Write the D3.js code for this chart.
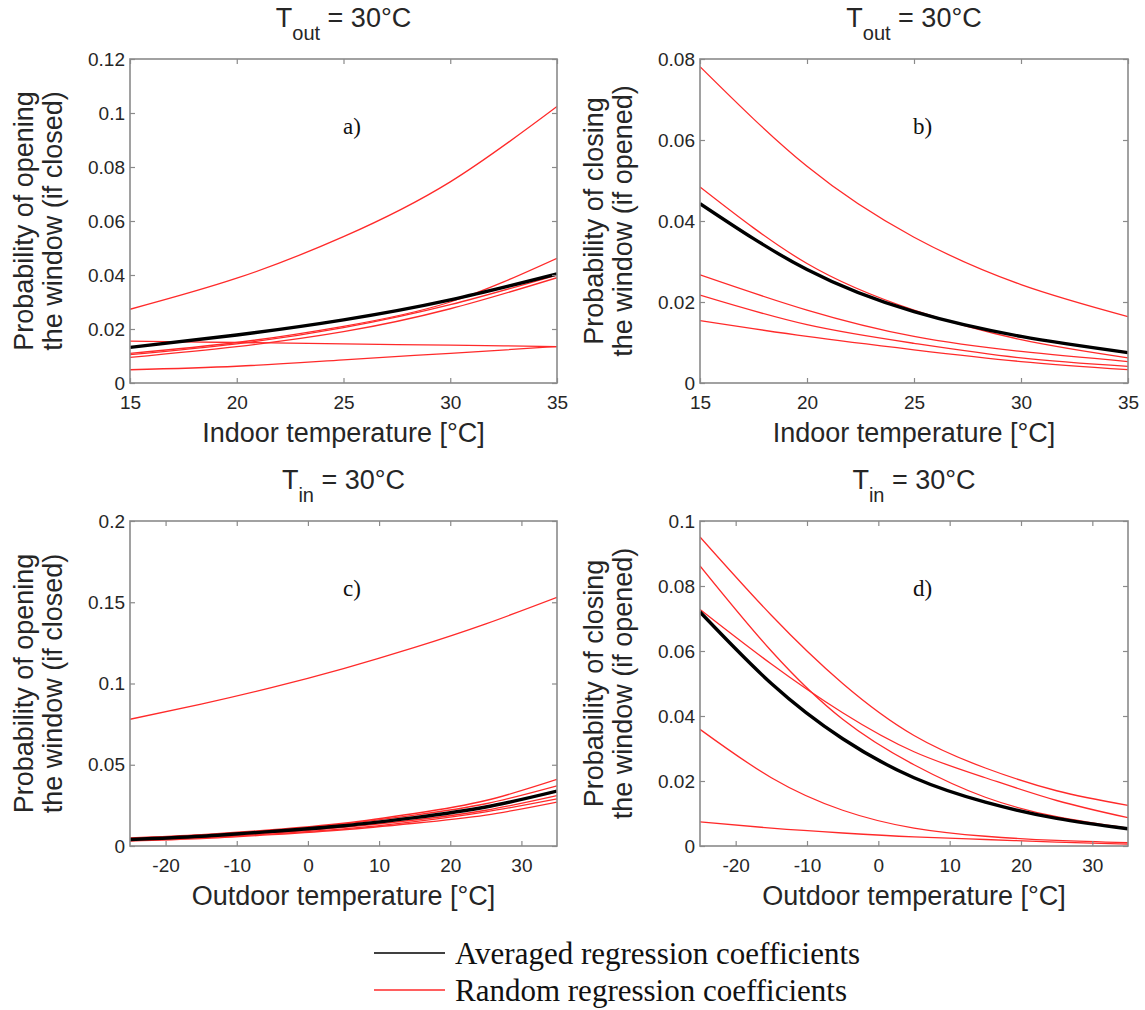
<!DOCTYPE html>
<html>
<head>
<meta charset="utf-8">
<script src="https://cdn.jsdelivr.net/npm/d3@7"></script>
<style>
  html, body { margin: 0; padding: 0; background: #fff; }
  svg { display: block; }
</style>
</head>
<body>
<svg id="chart" width="1145" height="1010"></svg>
<script>
// Sample temperatures at which each curve value was taken
const indoorTemps = [15, 20, 25, 30, 35];
const outdoorTemps = [-25, -15, -5, 5, 15, 25, 35];

// a) probability of opening vs indoor temperature (Tout = 30 °C)
const openIndoorAvg = [0.0132, 0.0178, 0.0234, 0.0308, 0.0404];
const openIndoorRandom = [
  [0.0273, 0.0388, 0.0542, 0.0745, 0.1024],
  [0.0110, 0.0150, 0.0210, 0.0300, 0.0462],
  [0.0105, 0.0145, 0.0205, 0.0290, 0.0400],
  [0.0095, 0.0135, 0.0190, 0.0275, 0.0390],
  [0.0155, 0.0150, 0.0145, 0.0140, 0.0135],
  [0.0049, 0.0062, 0.0086, 0.0110, 0.0135]
];

// b) probability of closing vs indoor temperature (Tout = 30 °C)
const closeIndoorAvg = [0.0443, 0.0280, 0.0176, 0.0115, 0.0075];
const closeIndoorRandom = [
  [0.0781, 0.0535, 0.0360, 0.0243, 0.0164],
  [0.0484, 0.0295, 0.0180, 0.0107, 0.0062],
  [0.0267, 0.0180, 0.0115, 0.0078, 0.0053],
  [0.0217, 0.0144, 0.0098, 0.0062, 0.0041],
  [0.0154, 0.0115, 0.0082, 0.0053, 0.0033]
];

// c) probability of opening vs outdoor temperature (Tin = 30 °C)
const openOutdoorAvg = [0.0040, 0.0060, 0.0090, 0.0125, 0.0175, 0.0240, 0.0338];
const openOutdoorRandom = [
  [0.0780, 0.0873, 0.0976, 0.1092, 0.1222, 0.1367, 0.1530],
  [0.0050, 0.0070, 0.0100, 0.0140, 0.0200, 0.0280, 0.0410],
  [0.0045, 0.0065, 0.0095, 0.0135, 0.0190, 0.0260, 0.0370],
  [0.0040, 0.0055, 0.0080, 0.0115, 0.0160, 0.0220, 0.0310],
  [0.0035, 0.0050, 0.0075, 0.0105, 0.0150, 0.0210, 0.0290],
  [0.0030, 0.0045, 0.0070, 0.0100, 0.0140, 0.0190, 0.0270]
];

// d) probability of closing vs outdoor temperature (Tin = 30 °C)
const closeOutdoorAvg = [0.0720, 0.0500, 0.0330, 0.0210, 0.0135, 0.0085, 0.0053];
const closeOutdoorRandom = [
  [0.0951, 0.0710, 0.0500, 0.0340, 0.0240, 0.0170, 0.0125],
  [0.0862, 0.0600, 0.0390, 0.0250, 0.0150, 0.0090, 0.0055],
  [0.0728, 0.0560, 0.0410, 0.0290, 0.0210, 0.0140, 0.0087],
  [0.0359, 0.0210, 0.0110, 0.0055, 0.0030, 0.0017, 0.0010],
  [0.0074, 0.0055, 0.0040, 0.0028, 0.0020, 0.0012, 0.0006]
];

// Axis ticks
const indoorTicks = [15, 20, 25, 30, 35];
const outdoorTicks = [-20, -10, 0, 10, 20, 30];
const yTicksA = [0, 0.02, 0.04, 0.06, 0.08, 0.1, 0.12];
const yTicksB = [0, 0.02, 0.04, 0.06, 0.08];
const yTicksC = [0, 0.05, 0.1, 0.15, 0.2];
const yTicksD = [0, 0.02, 0.04, 0.06, 0.08, 0.1];

// Text
const panelTags = ["a)", "b)", "c)", "d)"];
const yLabelsOpen = ["Probability of opening", "the window (if closed)"];
const yLabelsClose = ["Probability of closing", "the window (if opened)"];
const legendLabels = ["Averaged regression coefficients", "Random regression coefficients"];

// ---- drawing ----
const svg = d3.select("#chart");
const sans = "'Liberation Sans', Arial, Helvetica, sans-serif";
const serif = "'Liberation Serif', 'Times New Roman', serif";
const frameColor = "#8a8a8a";
const textColor = "#262626";
const redColor = "#ff2a2a";

const panels = [
  { tag: panelTags[0], left: 130, right: 557, top: 59, bottom: 383,
    xDomain: [15, 35], yDomain: [0, 0.12], xTicks: indoorTicks, yTicks: yTicksA,
    xs: indoorTemps, avg: openIndoorAvg, random: openIndoorRandom,
    title: ["T", "out", " = 30°C"], xLabel: "Indoor temperature [°C]", yLabel: yLabelsOpen },
  { tag: panelTags[1], left: 700, right: 1128, top: 59, bottom: 383,
    xDomain: [15, 35], yDomain: [0, 0.08], xTicks: indoorTicks, yTicks: yTicksB,
    xs: indoorTemps, avg: closeIndoorAvg, random: closeIndoorRandom,
    title: ["T", "out", " = 30°C"], xLabel: "Indoor temperature [°C]", yLabel: yLabelsClose },
  { tag: panelTags[2], left: 130, right: 557, top: 521, bottom: 846,
    xDomain: [-25, 35], yDomain: [0, 0.2], xTicks: outdoorTicks, yTicks: yTicksC,
    xs: outdoorTemps, avg: openOutdoorAvg, random: openOutdoorRandom,
    title: ["T", "in", " = 30°C"], xLabel: "Outdoor temperature [°C]", yLabel: yLabelsOpen },
  { tag: panelTags[3], left: 700, right: 1128, top: 521, bottom: 846,
    xDomain: [-25, 35], yDomain: [0, 0.1], xTicks: outdoorTicks, yTicks: yTicksD,
    xs: outdoorTemps, avg: closeOutdoorAvg, random: closeOutdoorRandom,
    title: ["T", "in", " = 30°C"], xLabel: "Outdoor temperature [°C]", yLabel: yLabelsClose }
];

const fmt = v => v === 0 ? "0" : String(+v.toFixed(3));

panels.forEach((p, i) => {
  const x = d3.scaleLinear().domain(p.xDomain).range([p.left, p.right]);
  const y = d3.scaleLinear().domain(p.yDomain).range([p.bottom, p.top]);
  const g = svg.append("g");
  const clipId = "clip" + i;

  svg.append("clipPath").attr("id", clipId)
    .append("rect")
    .attr("x", p.left).attr("y", p.top)
    .attr("width", p.right - p.left).attr("height", p.bottom - p.top);

  const line = d3.line()
    .x((d, k) => x(p.xs[k]))
    .y(d => y(d))
    .curve(d3.curveNatural);

  const curves = g.append("g").attr("clip-path", `url(#${clipId})`);
  curves.selectAll("path.random").data(p.random).join("path")
    .attr("class", "random")
    .attr("d", line)
    .attr("fill", "none")
    .attr("stroke", redColor)
    .attr("stroke-width", 1.3);
  curves.append("path")
    .attr("d", line(p.avg))
    .attr("fill", "none")
    .attr("stroke", "#000")
    .attr("stroke-width", 3.4);

  // Axes: inward ticks on all four sides, boxed frame
  const tickLen = 5;
  const axB = d3.axisBottom(x).tickValues(p.xTicks).tickSize(-tickLen).tickFormat(fmt).tickPadding(13);
  const axT = d3.axisTop(x).tickValues(p.xTicks).tickSize(-tickLen).tickFormat("");
  const axL = d3.axisLeft(y).tickValues(p.yTicks).tickSize(-tickLen).tickFormat(fmt).tickPadding(5);
  const axR = d3.axisRight(y).tickValues(p.yTicks).tickSize(-tickLen).tickFormat("");

  const axes = [
    g.append("g").attr("transform", `translate(0,${p.bottom})`).call(axB),
    g.append("g").attr("transform", `translate(0,${p.top})`).call(axT),
    g.append("g").attr("transform", `translate(${p.left},0)`).call(axL),
    g.append("g").attr("transform", `translate(${p.right},0)`).call(axR)
  ];
  axes.forEach(a => {
    a.select(".domain").remove();
    a.selectAll(".tick line").attr("stroke", frameColor).attr("stroke-width", 1.2);
    a.selectAll(".tick text")
      .attr("fill", textColor)
      .style("font-family", sans)
      .style("font-size", "19px");
  });

  g.append("rect")
    .attr("x", p.left).attr("y", p.top)
    .attr("width", p.right - p.left).attr("height", p.bottom - p.top)
    .attr("fill", "none")
    .attr("stroke", frameColor)
    .attr("stroke-width", 1.6);

  const w = p.right - p.left;
  const h = p.bottom - p.top;
  const cx = p.left + w / 2;
  const cy = p.top + h / 2;

  // Title with subscript
  const t = g.append("text")
    .attr("x", cx).attr("y", p.top - 32)
    .attr("text-anchor", "middle")
    .attr("fill", textColor)
    .style("font-family", sans)
    .style("font-size", "27px");
  t.append("tspan").text(p.title[0]);
  t.append("tspan").attr("dy", 13).style("font-size", "20px").text(p.title[1]);
  t.append("tspan").attr("dy", -13).text(p.title[2]);

  // x label
  g.append("text")
    .attr("x", cx).attr("y", p.bottom + 59)
    .attr("text-anchor", "middle")
    .attr("fill", textColor)
    .style("font-family", sans)
    .style("font-size", "27px")
    .text(p.xLabel);

  // y label, two lines
  p.yLabel.forEach((s, k) => {
    g.append("text")
      .attr("transform", `translate(${p.left - 97 + k * 29},${cy}) rotate(-90)`)
      .attr("text-anchor", "middle")
      .attr("fill", textColor)
      .style("font-family", sans)
      .style("font-size", "27px")
      .text(s);
  });

  // panel tag
  g.append("text")
    .attr("x", p.left + w * 0.52).attr("y", p.top + h * 0.21 + 7)
    .attr("text-anchor", "middle")
    .attr("fill", "#111")
    .style("font-family", serif)
    .style("font-size", "23px")
    .text(p.tag);
});

// Legend
const legendColors = ["#000", redColor];
const legendWidths = [2.2, 1.6];
const legend = svg.append("g");
legendLabels.forEach((s, k) => {
  const ly = 953 + k * 37;
  legend.append("line")
    .attr("x1", 374).attr("x2", 445)
    .attr("y1", ly).attr("y2", ly)
    .attr("stroke", legendColors[k])
    .attr("stroke-opacity", k === 0 ? 0.75 : 1)
    .attr("stroke-width", legendWidths[k]);
  legend.append("text")
    .attr("x", 455).attr("y", ly + 11)
    .attr("fill", "#111")
    .style("font-family", serif)
    .style("font-size", "31px")
    .text(s);
});
</script>
</body>
</html>
